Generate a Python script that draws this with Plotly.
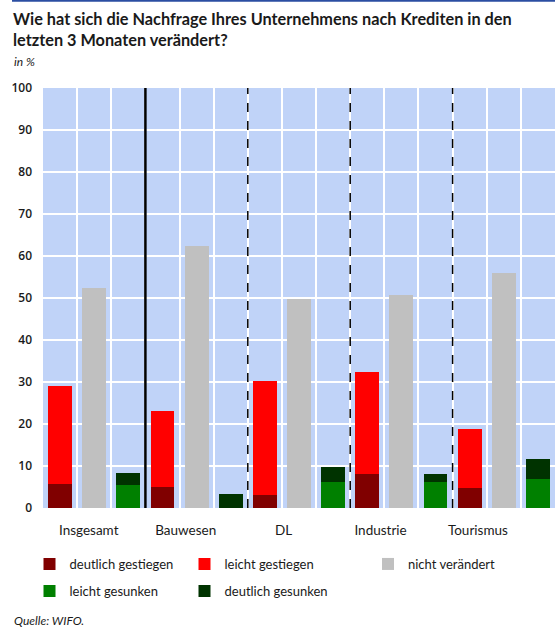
import plotly.graph_objects as go

# Sectors and survey answers (shares in %)
sectors = ["Insgesamt", "Bauwesen", "DL", "Industrie", "Tourismus"]
deutlich_gestiegen = [5.6, 4.9, 3.2, 8.0, 4.7]
leicht_gestiegen = [23.4, 18.1, 27.0, 24.5, 14.0]
nicht_veraendert = [52.5, 62.3, 49.7, 50.6, 55.9]
leicht_gesunken = [5.4, 0.0, 6.3, 6.3, 6.8]
deutlich_gesunken = [2.85, 3.25, 3.4, 1.7, 4.8]

# x-axis label positions (slot units) and y-axis ticks
label_pos = [0.84, 3.68, 6.55, 9.39, 12.24]
y_ticks = list(range(0, 101, 10))

title_lines = [
    "Wie hat sich die Nachfrage Ihres Unternehmens nach Krediten in den",
    "letzten 3 Monaten verändert?",
]

FONT = "Lato"
TXT = "#1a1a1a"

# pixel helpers for the plot frame (left 43, top 88, bottom 508, width 512)
def py(p):
    return (508 - p) / 420

def px(p):
    return (p - 43) / 512

# each sector uses three slots: rising, unchanged, falling
n = len(sectors)
x_up = [3 * i for i in range(n)]
x_mid = [3 * i + 1 for i in range(n)]
x_down = [3 * i + 2 for i in range(n)]

series = [
    ("deutlich gestiegen", x_up, deutlich_gestiegen, "#800000", "legend"),
    ("leicht gestiegen", x_up, leicht_gestiegen, "#FF0000", "legend"),
    ("nicht verändert", x_mid, nicht_veraendert, "#C0C0C0", "legend3"),
    ("leicht gesunken", x_down, leicht_gesunken, "#008000", "legend2"),
    ("deutlich gesunken", x_down, deutlich_gesunken, "#003300", "legend2"),
]

fig = go.Figure()
for name, xs, ys, col, leg in series:
    fig.add_trace(go.Bar(
        x=xs, y=ys, name=name, marker=dict(color=col, line=dict(width=0)),
        width=0.7, legend=leg, hoverinfo="skip",
    ))

# sector separators: solid after the total, dashed between sectors
for k, xv in enumerate([2.5, 5.5, 8.5, 11.5]):
    fig.add_shape(
        type="line", xref="x", yref="paper", x0=xv, x1=xv, y0=0, y1=1,
        line=dict(color="black", width=2.5 if k == 0 else 1.5,
                  dash="solid" if k == 0 else "dash"),
        layer="above",
    )

# blue rule at the top of the page
fig.add_shape(
    type="line", xref="paper", yref="paper", x0=px(12), x1=1.0,
    y0=py(0.8), y1=py(0.8),
    line=dict(color="#2B4EA2", width=2),
)

for line, yc in zip(title_lines, [19, 40]):
    fig.add_annotation(
        text=f"<b>{line}</b>", xref="paper", yref="paper", x=px(11), y=py(yc),
        xanchor="left", yanchor="middle", showarrow=False,
        font=dict(family=FONT, size=16.3, color=TXT),
    )

fig.add_annotation(
    text="<i>in %</i>", xref="paper", yref="paper", x=px(12), y=py(61),
    xanchor="left", yanchor="middle", showarrow=False,
    font=dict(family=FONT, size=12, color=TXT),
)
fig.add_annotation(
    text="<i>Quelle: WIFO.</i>", xref="paper", yref="paper", x=px(12),
    y=py(620), xanchor="left", yanchor="middle", showarrow=False,
    font=dict(family=FONT, size=12, color=TXT),
)

legend_style = dict(
    orientation="h", xanchor="left", yanchor="top",
    entrywidth=110, entrywidthmode="pixels", bgcolor="rgba(0,0,0,0)",
    font=dict(family=FONT, size=13, color=TXT), traceorder="normal",
)

fig.update_layout(
    width=555, height=630,
    margin=dict(l=43, r=0, t=88, b=122, autoexpand=False),
    paper_bgcolor="white",
    plot_bgcolor="#C0D3F8",
    barmode="stack",
    bargap=0,
    xaxis=dict(
        range=[-0.5, 14.5], tickvals=label_pos, ticktext=sectors,
        showgrid=False, zeroline=False, ticks="", ticklabelstandoff=12,
        tickfont=dict(family=FONT, size=13.5, color=TXT),
        minor=dict(tickvals=[i + 0.5 for i in range(14)], showgrid=True,
                   gridcolor="white", gridwidth=1.5, ticks=""),
        fixedrange=True,
    ),
    yaxis=dict(
        range=[0, 100], tickvals=y_ticks, showgrid=True, gridcolor="white",
        gridwidth=1.5, zeroline=False, ticks="", ticklabelstandoff=10,
        tickfont=dict(family="Open Sans", size=12, color=TXT, weight=600),
        fixedrange=True,
    ),
    legend=dict(legend_style, x=px(29.5), y=py(549)),
    legend2=dict(legend_style, x=px(29.5), y=py(576)),
    legend3=dict(legend_style, x=px(368), y=py(549)),
    showlegend=True,
)

fig.write_html("out.html")
